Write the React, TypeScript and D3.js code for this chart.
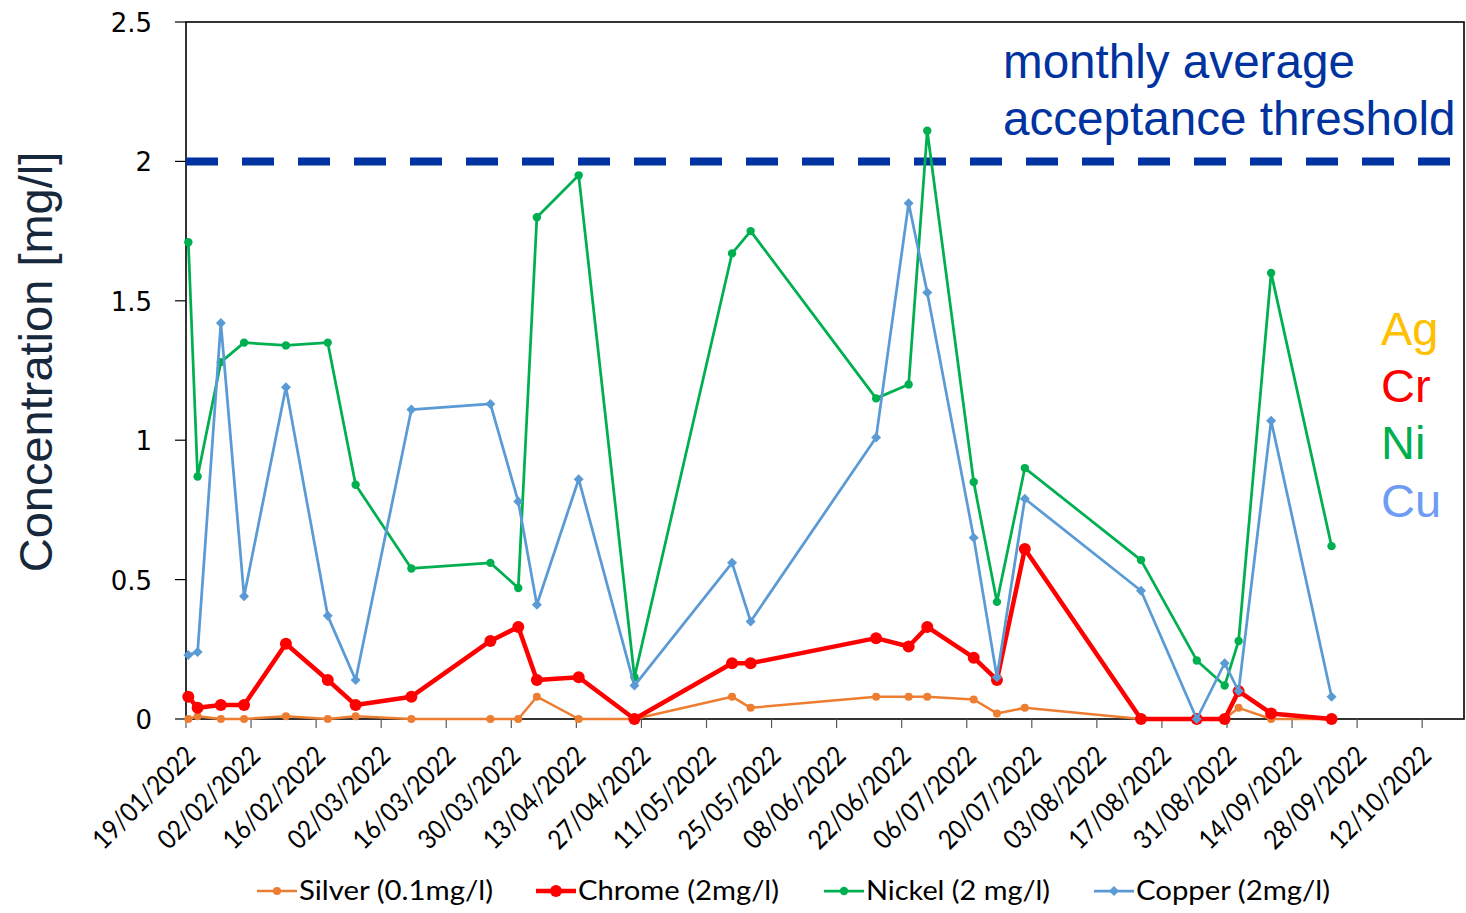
import React from "react";
import * as d3 from "d3";

// ---- data ----
const sampleDates = [
  "2022-01-19", "2022-01-21", "2022-01-26", "2022-01-31", "2022-02-09", "2022-02-18",
  "2022-02-24", "2022-03-08", "2022-03-25", "2022-03-31", "2022-04-04", "2022-04-13",
  "2022-04-25", "2022-05-16", "2022-05-20", "2022-06-16", "2022-06-23", "2022-06-27",
  "2022-07-07", "2022-07-12", "2022-07-18", "2022-08-12", "2022-08-24", "2022-08-30",
  "2022-09-02", "2022-09-09", "2022-09-22",
];
const sampleHour = 12;

const silver = [0, 0.01, 0, 0, 0.01, 0, 0.01, 0, 0, 0, 0.08, 0, 0, 0.08, 0.04, 0.08, 0.08, 0.08, 0.07, 0.02, 0.04, 0, 0, 0, 0.04, 0, 0];
const chrome = [0.08, 0.04, 0.05, 0.05, 0.27, 0.14, 0.05, 0.08, 0.28, 0.33, 0.14, 0.15, 0, 0.2, 0.2, 0.29, 0.26, 0.33, 0.22, 0.14, 0.61, 0, 0, 0, 0.1, 0.02, 0];
const nickel = [1.71, 0.87, 1.28, 1.35, 1.34, 1.35, 0.84, 0.54, 0.56, 0.47, 1.8, 1.95, 0.15, 1.67, 1.75, 1.15, 1.2, 2.11, 0.85, 0.42, 0.9, 0.57, 0.21, 0.12, 0.28, 1.6, 0.62];
const copper = [0.23, 0.24, 1.42, 0.44, 1.19, 0.37, 0.14, 1.11, 1.13, 0.78, 0.41, 0.86, 0.12, 0.56, 0.35, 1.01, 1.85, 1.53, 0.65, 0.15, 0.79, 0.46, 0, 0.2, 0.1, 1.07, 0.08];

const seriesNames = ["Silver (0.1mg/l)", "Chrome (2mg/l)", "Nickel (2 mg/l)", "Copper (2mg/l)"];
const elementLabels = ["Ag", "Cr", "Ni", "Cu"];

const xTickLabels = [
  "19/01/2022", "02/02/2022", "16/02/2022", "02/03/2022", "16/03/2022", "30/03/2022",
  "13/04/2022", "27/04/2022", "11/05/2022", "25/05/2022", "08/06/2022", "22/06/2022",
  "06/07/2022", "20/07/2022", "03/08/2022", "17/08/2022", "31/08/2022", "14/09/2022",
  "28/09/2022", "12/10/2022",
];
const xDomainLabels = ["19/01/2022", "21/10/2022"];
const yTicks = [0, 0.5, 1, 1.5, 2, 2.5];
const threshold = 2;
const thresholdLabel = ["monthly average", "acceptance threshold"];
const yTitle = "Concentration [mg/l]";

// ---- layout / style ----
const W = 1466, H = 913;
const M = { left: 186, right: 1464, top: 22, bottom: 719 };
const styles = [
  { color: "#ED7D31", width: 2.5, marker: "circle", r: 4 },
  { color: "#FF0000", width: 4.5, marker: "circle", r: 6 },
  { color: "#00B050", width: 2.75, marker: "circle", r: 4.2 },
  { color: "#5B9BD5", width: 2.75, marker: "diamond", r: 5 },
];
const labelColors = ["#FFC000", "#FF0000", "#00B050", "#6E9CF5"];
const legendX = [257, 536, 824, 1094];
const legendTextW = [194, 201, 184, 194];

const parseISO = d3.timeParse("%Y-%m-%d");
const parseDMY = d3.timeParse("%d/%m/%Y");

export default function App() {
  const x = d3
    .scaleTime()
    .domain(xDomainLabels.map((s) => parseDMY(s) as Date))
    .range([M.left, M.right]);
  const y = d3.scaleLinear().domain([0, 2.5]).range([M.bottom, M.top]);

  const dates = sampleDates.map((s) => d3.timeHour.offset(parseISO(s) as Date, sampleHour));
  const allSeries = [silver, chrome, nickel, copper];

  const line = d3
    .line<[Date, number]>()
    .x((d) => x(d[0]))
    .y((d) => y(d[1]));

  const diamond = (r: number) => `M0,${-r}L${r},0L0,${r}L${-r},0Z`;
  const marker = (i: number, cx: number, cy: number, key: string) => {
    const s = styles[i];
    if (s.marker === "diamond")
      return <path key={key} d={diamond(s.r)} transform={`translate(${cx},${cy})`} fill={s.color} />;
    return <circle key={key} cx={cx} cy={cy} r={s.r} fill={s.color} />;
  };

  const tickDates = xTickLabels.map((s) => parseDMY(s) as Date);
  const yFmt = d3.format("");

  return (
    <svg
      width={W}
      height={H}
      style={{ position: "absolute", left: 0, top: 0, background: "#fff" }}
      fontFamily="'Liberation Sans', Arial, sans-serif"
    >
      <rect x={0} y={0} width={W} height={H} fill="#fff" />

      {/* plot frame */}
      <rect
        x={M.left}
        y={M.top}
        width={M.right - M.left}
        height={M.bottom - M.top}
        fill="none"
        stroke="#000"
        strokeWidth={1.6}
      />

      {/* y ticks */}
      {yTicks.map((t) => (
        <g key={"yt" + t}>
          <line x1={M.left - 11} x2={M.left} y1={y(t)} y2={y(t)} stroke="#000" strokeWidth={1.2} />
          <text
            x={152}
            y={y(t) + 10}
            textAnchor="end"
            fontFamily="'DejaVu Sans', Verdana, sans-serif"
            fontSize={26}
            fill="#000"
          >
            {yFmt(t)}
          </text>
        </g>
      ))}

      {/* x ticks */}
      {tickDates.map((d, i) => (
        <g key={"xt" + i}>
          <line x1={x(d)} x2={x(d)} y1={M.bottom} y2={M.bottom + 9} stroke="#595959" strokeWidth={1.2} />
          <text
            transform={`translate(${x(d) + 3.5},${M.bottom + 31}) rotate(-45)`}
            textAnchor="end"
            dominantBaseline="central"
            fontFamily="Lato, 'Open Sans', sans-serif"
            fontSize={27}
            textLength={132}
            lengthAdjust="spacingAndGlyphs"
            fill="#000"
          >
            {xTickLabels[i]}
          </text>
        </g>
      ))}

      {/* y title */}
      <text
        transform={`translate(52,362) rotate(-90)`}
        textAnchor="middle"
        fontSize={47}
        fill="#17283C"
      >
        {yTitle}
      </text>

      {/* threshold */}
      <line
        x1={M.left}
        x2={M.right}
        y1={y(threshold)}
        y2={y(threshold)}
        stroke="#0033A0"
        strokeWidth={8}
        strokeDasharray="32 24"
      />
      {thresholdLabel.map((s, i) => (
        <text key={"th" + i} x={1003} y={78 + i * 57} fontSize={47.6} fill="#0033A0">
          {s}
        </text>
      ))}

      {/* element labels */}
      {elementLabels.map((s, i) => (
        <text key={"el" + i} x={1381} y={345 + i * 57.2} fontSize={47} fill={labelColors[i]}>
          {s}
        </text>
      ))}

      {/* series */}
      {allSeries.map((vals, si) => {
        const pts = dates.map((d, j) => [d, vals[j]] as [Date, number]);
        return (
          <g key={"s" + si}>
            <path
              d={line(pts) || ""}
              fill="none"
              stroke={styles[si].color}
              strokeWidth={styles[si].width}
              strokeLinejoin="round"
            />
            {pts.map((p, j) => marker(si, x(p[0]), y(p[1]), `m${si}-${j}`))}
          </g>
        );
      })}

      {/* legend */}
      {seriesNames.map((name, i) => (
        <g key={"lg" + i}>
          <line
            x1={legendX[i]}
            x2={legendX[i] + 40}
            y1={891}
            y2={891}
            stroke={styles[i].color}
            strokeWidth={styles[i].width}
          />
          {marker(i, legendX[i] + 20, 891, "lm" + i)}
          <text
            x={legendX[i] + 42}
            y={900}
            fontFamily="Lato, 'Open Sans', sans-serif"
            fontSize={26}
            textLength={legendTextW[i]}
            lengthAdjust="spacingAndGlyphs"
            fill="#000"
          >
            {name}
          </text>
        </g>
      ))}
    </svg>
  );
}
